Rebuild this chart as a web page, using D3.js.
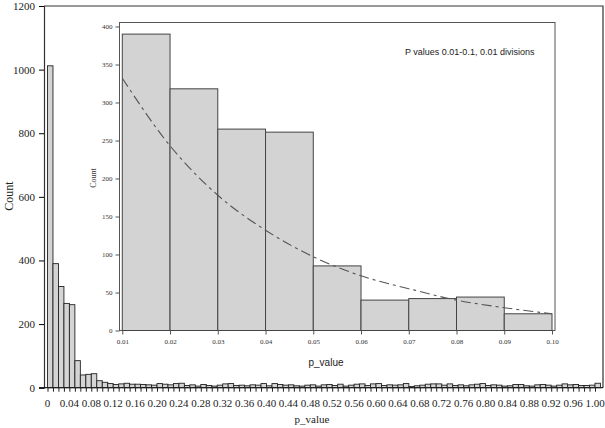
<!DOCTYPE html>
<html>
<head>
<meta charset="utf-8">
<script src="https://cdn.jsdelivr.net/npm/d3@7"></script>
<style>
  body { margin: 0; background: #fff; }
  svg { display: block; }
</style>
</head>
<body>
<div id="chart"></div>
<script>
const SVG_WIDTH = 605;
const SVG_HEIGHT = 428;

// main histogram: bins of 0.01 starting at 0 (last bin is p = 1.00)
const binStarts = d3.range(0, 101).map(i => i / 100);
const binCounts = [
    1012, 390, 318, 265, 261, 85, 40, 42, 44, 22,
    17, 13, 10, 12, 14, 11, 11, 10, 9, 8,
    13, 11, 9, 13, 14, 7, 9, 5, 10, 7,
    5, 8, 12, 13, 7, 8, 6, 9, 8, 13,
    6, 13, 10, 8, 9, 6, 5, 8, 9, 5,
    9, 10, 7, 11, 5, 8, 11, 12, 7, 12,
    13, 7, 9, 8, 9, 13, 4, 6, 8, 11,
    12, 12, 8, 12, 7, 9, 6, 9, 11, 13,
    7, 9, 8, 5, 6, 10, 10, 6, 5, 9,
    10, 8, 5, 8, 12, 9, 10, 7, 7, 8,
    14
];
const mainXTicks = ["0", "0.04", "0.08", "0.12", "0.16", "0.20", "0.24", "0.28", "0.32", "0.36",
    "0.40", "0.44", "0.48", "0.52", "0.56", "0.60", "0.64", "0.68", "0.72", "0.76",
    "0.80", "0.84", "0.88", "0.92", "0.96", "1.00"];
const mainYTicks = [0, 200, 400, 600, 800, 1000, 1200];

// inset: 0.01 - 0.10
const insetBins = [0.01, 0.02, 0.03, 0.04, 0.05, 0.06, 0.07, 0.08, 0.09];
const insetCounts = [390, 318, 265, 261, 85, 40, 42, 44, 22];
const insetXTicks = ["0.01", "0.02", "0.03", "0.04", "0.05", "0.06", "0.07", "0.08", "0.09", "0.10"];
const insetYTicks = [0, 50, 100, 150, 200, 250, 300, 350, 400];
// fitted curve
const curveX = [0.01, 0.02, 0.03, 0.04, 0.05, 0.06, 0.07, 0.08, 0.09, 0.10];
const curveY = [332, 243, 178, 132, 97, 72, 55, 40, 30, 22];

const SERIF = "'Liberation Serif', 'Times New Roman', serif";
const SANS = "'Liberation Sans', Arial, sans-serif";

const svg = d3.select("#chart").append("svg")
    .attr("width", SVG_WIDTH)
    .attr("height", SVG_HEIGHT);

// ---- main chart ----
const x = d3.scaleLinear().domain([0, 1]).range([47.5, 595]);
const y = d3.scaleLinear().domain([0, 1200]).range([387.7, 6]);
const bw = x(0.01) - x(0);

// frame
svg.append("path")
    .attr("d", `M44,${y(1200)}H603V${y(0)}`)
    .attr("fill", "none")
    .attr("stroke", "#333")
    .attr("stroke-width", 1.2);

svg.selectAll(".bar")
    .data(binStarts)
    .enter()
    .append("rect")
    .attr("class", "bar")
    .attr("x", d => x(d))
    .attr("y", (d, i) => y(binCounts[i]))
    .attr("width", bw)
    .attr("height", (d, i) => y(0) - y(binCounts[i]))
    .attr("fill", "#d4d4d4")
    .attr("stroke", "#222")
    .attr("stroke-width", 0.9);

const yAxis = svg.append("g")
    .attr("transform", "translate(44,0)")
    .call(d3.axisLeft(y).tickValues(mainYTicks).tickSize(5).tickPadding(4).tickFormat(d3.format("d")));
yAxis.select(".domain").attr("stroke", "#333").attr("stroke-width", 1.2);
yAxis.selectAll("text").attr("font-family", SERIF).attr("font-size", 11).attr("fill", "#222");

const xAxis = svg.append("g")
    .attr("transform", `translate(0,${y(0)})`)
    .call(d3.axisBottom(x).tickValues(binStarts).tickSize(4).tickFormat(""));
xAxis.select(".domain").attr("d", `M39,0H603`).attr("stroke", "#222").attr("stroke-width", 1.2);
xAxis.selectAll(".tick line").attr("stroke", "#222");

svg.append("g")
    .selectAll("text")
    .data(mainXTicks)
    .enter()
    .append("text")
    .attr("x", d => x(+d))
    .attr("y", 407)
    .attr("text-anchor", "middle")
    .attr("font-family", SERIF)
    .attr("font-size", 11)
    .attr("fill", "#222")
    .text(d => d);

svg.append("text")
    .attr("transform", "translate(13,196) rotate(-90)")
    .attr("text-anchor", "middle")
    .attr("font-family", SERIF)
    .attr("font-size", 12)
    .attr("fill", "#222")
    .text("Count");

svg.append("text")
    .attr("x", 312)
    .attr("y", 423)
    .attr("text-anchor", "middle")
    .attr("font-family", SERIF)
    .attr("font-size", 11)
    .attr("fill", "#222")
    .text("p_value");

// ---- inset ----
const ix = d3.scaleLinear().domain([0.01, 0.10]).range([122.3, 552]);
const iy = d3.scaleLinear().domain([0, 400]).range([330.5, 26.5]);

svg.append("rect")
    .attr("x", 119.5)
    .attr("y", 22.5)
    .attr("width", 555 - 119.5)
    .attr("height", iy(0) - 22.5)
    .attr("fill", "#fff")
    .attr("stroke", "#555")
    .attr("stroke-width", 1);

svg.selectAll(".ibar")
    .data(insetBins)
    .enter()
    .append("rect")
    .attr("class", "ibar")
    .attr("x", d => ix(d))
    .attr("y", (d, i) => iy(insetCounts[i]))
    .attr("width", ix(0.02) - ix(0.01))
    .attr("height", (d, i) => iy(0) - iy(insetCounts[i]))
    .attr("fill", "#d3d3d3")
    .attr("stroke", "#444")
    .attr("stroke-width", 1);

const iyAxis = svg.append("g")
    .attr("transform", "translate(119.5,0)")
    .call(d3.axisLeft(iy).tickValues(insetYTicks).tickSize(4).tickPadding(3));
iyAxis.select(".domain").remove();
iyAxis.selectAll(".tick line").attr("stroke", "#555");
iyAxis.selectAll("text").attr("font-family", SERIF).attr("font-size", 7).attr("fill", "#333");

const ixAxis = svg.append("g")
    .attr("transform", `translate(0,${iy(0)})`)
    .call(d3.axisBottom(ix).tickValues(insetXTicks.map(Number)).tickSize(4).tickPadding(5)
        .tickFormat((d, i) => insetXTicks[i]));
ixAxis.select(".domain").remove();
ixAxis.selectAll(".tick line").attr("stroke", "#555");
ixAxis.selectAll("text").attr("font-family", SERIF).attr("font-size", 7).attr("fill", "#333");

const line = d3.line()
    .x((d, i) => ix(curveX[i]))
    .y(d => iy(d))
    .curve(d3.curveMonotoneX);

svg.append("path")
    .datum(curveY)
    .attr("d", line)
    .attr("fill", "none")
    .attr("stroke", "#555")
    .attr("stroke-width", 1.1)
    .attr("stroke-dasharray", "10,4,3,4");

svg.append("text")
    .attr("transform", "translate(96,178) rotate(-90)")
    .attr("text-anchor", "middle")
    .attr("font-family", SERIF)
    .attr("font-size", 8)
    .attr("fill", "#333")
    .text("Count");

svg.append("text")
    .attr("x", 326)
    .attr("y", 366)
    .attr("text-anchor", "middle")
    .attr("font-family", SANS)
    .attr("font-size", 10)
    .attr("fill", "#222")
    .text("p_value");

svg.append("text")
    .attr("x", 405)
    .attr("y", 55)
    .attr("font-family", SANS)
    .attr("font-size", 9)
    .attr("fill", "#222")
    .text("P  values 0.01-0.1, 0.01 divisions");
</script>
</body>
</html>
